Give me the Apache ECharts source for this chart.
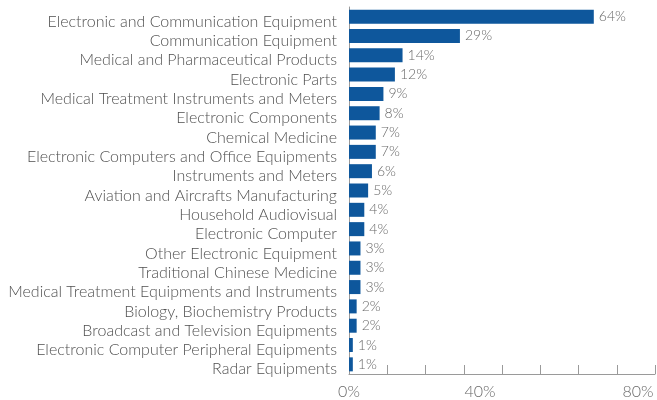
<!DOCTYPE html>
<html>
<head>
<meta charset="utf-8">
<script src="https://cdn.jsdelivr.net/npm/echarts@6/dist/echarts.min.js"></script>
<style>
  html, body { margin: 0; padding: 0; background: #fff; }
  #chart { width: 657px; height: 400px; }
</style>
</head>
<body>
<div id="chart"></div>
<script>
// Industry categories, listed top to bottom
const categories = [
  'Electronic and Communication Equipment',
  'Communication Equipment',
  'Medical and Pharmaceutical Products',
  'Electronic Parts',
  'Medical Treatment Instruments and Meters',
  'Electronic Components',
  'Chemical Medicine',
  'Electronic Computers and Office Equipments',
  'Instruments and Meters',
  'Aviation and Aircrafts Manufacturing',
  'Household Audiovisual',
  'Electronic Computer',
  'Other Electronic Equipment',
  'Traditional Chinese Medicine',
  'Medical Treatment Equipments and Instruments',
  'Biology, Biochemistry Products',
  'Broadcast and Television Equipments',
  'Electronic Computer Peripheral Equipments',
  'Radar Equipments'
];

// Share of each category, percent
const shares = [64, 29, 14, 12, 9, 8, 7, 7, 6, 5, 4, 4, 3, 3, 3, 2, 2, 1, 1];

// Labelled ticks on the value axis
const tickLabels = [0, 40, 80];

const chart = echarts.init(document.getElementById('chart'));
const font = 'Lato';

chart.setOption({
  animation: false,
  grid: { left: 349, right: 2, top: 7, bottom: 26, containLabel: false },
  xAxis: {
    type: 'value',
    min: 0,
    max: 80,
    interval: 10,
    splitLine: { show: false },
    axisLine: { show: true, lineStyle: { color: '#9a9a9a', width: 1 } },
    axisTick: { show: true, inside: true, length: 9, lineStyle: { color: '#9a9a9a' } },
    axisLabel: {
      margin: 10,
      fontFamily: font,
      fontWeight: 300,
      fontSize: 16,
      color: '#6a6a6a',
      formatter: function (v) {
        if (tickLabels.indexOf(v) < 0) return '';
        if (v === 40) return '{m|' + v + '%}';
        if (v === 80) return '{r|' + v + '%}';
        return v + '%';
      },
      rich: {
        m: { fontFamily: font, fontWeight: 300, fontSize: 16, color: '#6a6a6a', padding: [0, 44, 0, 0] },
        r: { fontFamily: font, fontWeight: 300, fontSize: 16, color: '#6a6a6a', padding: [0, 34, 0, 0] }
      }
    }
  },
  yAxis: {
    type: 'category',
    inverse: true,
    data: categories,
    axisLine: { show: true, lineStyle: { color: '#9a9a9a', width: 1 } },
    axisTick: { show: false },
    axisLabel: {
      interval: 0,
      margin: 12,
      formatter: function (name) { return '{c|' + name + '}'; },
      rich: {
        c: {
          fontFamily: font,
          fontWeight: 300,
          fontSize: 16,
          color: '#505050',
          padding: [10, 0, 0, 0]
        }
      }
    }
  },
  series: [{
    type: 'bar',
    data: shares,
    barWidth: 14,
    itemStyle: { color: '#0e579c' },
    label: {
      show: true,
      position: 'right',
      distance: 5,
      fontFamily: font,
      fontWeight: 300,
      fontSize: 14,
      color: '#6a6a6a',
      formatter: '{c}%'
    }
  }]
});
</script>
</body>
</html>
